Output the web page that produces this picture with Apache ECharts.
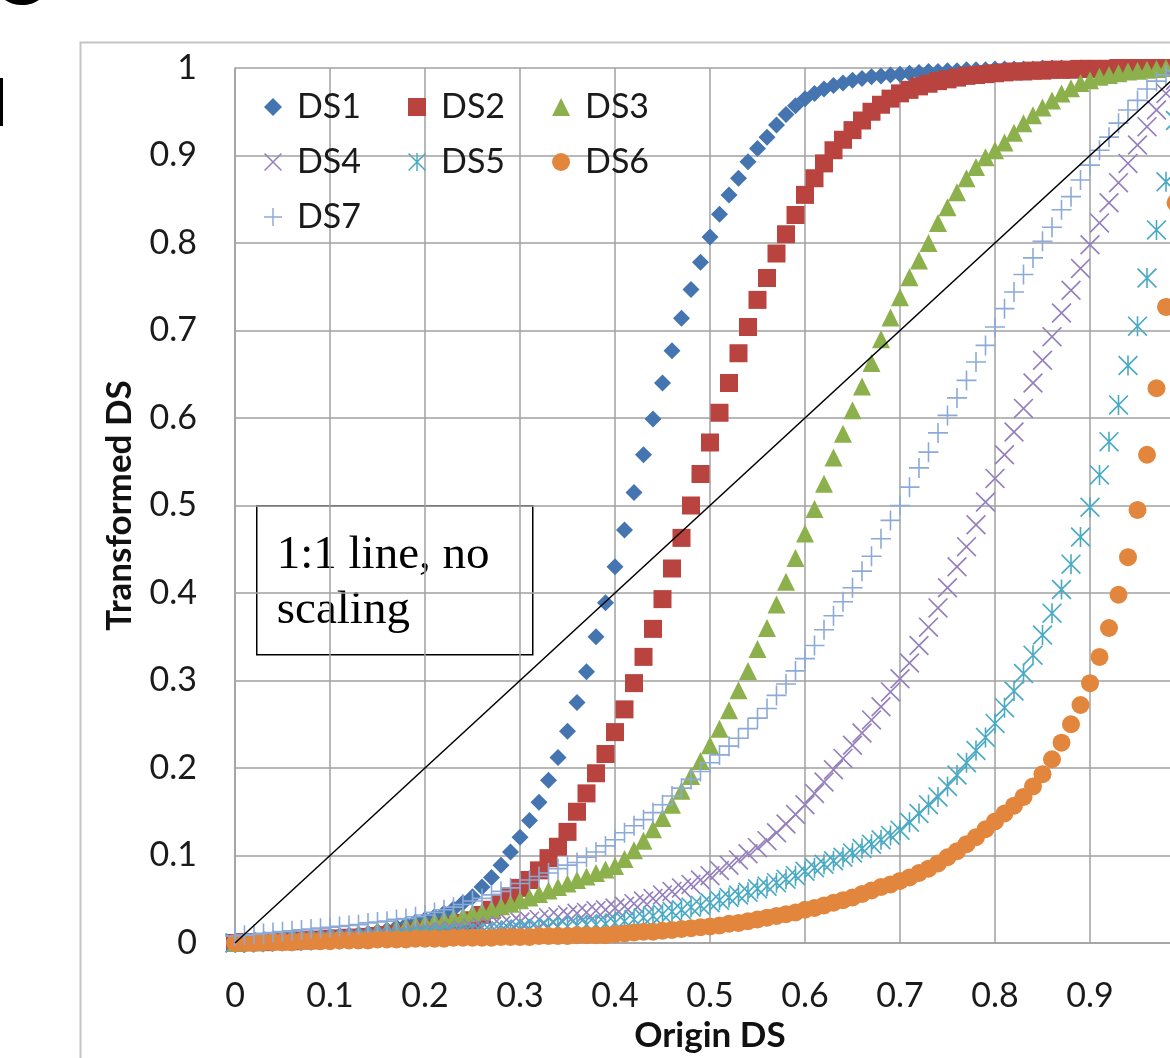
<!DOCTYPE html>
<html>
<head>
<meta charset="utf-8">
<script src="https://cdn.jsdelivr.net/npm/echarts/dist/echarts.min.js"></script>
<style>
  html, body { margin: 0; padding: 0; background: #fff; }
  #chart { width: 1170px; height: 1058px; }
</style>
</head>
<body>
<div id="chart"></div>
<script>
// origin DS sample points (x)
const originDS = [
  0, 0.01, 0.02, 0.03, 0.04, 0.05, 0.06, 0.07, 0.08, 0.09,
  0.1, 0.11, 0.12, 0.13, 0.14, 0.15, 0.16, 0.17, 0.18, 0.19,
  0.2, 0.21, 0.22, 0.23, 0.24, 0.25, 0.26, 0.27, 0.28, 0.29,
  0.3, 0.31, 0.32, 0.33, 0.34, 0.35, 0.36, 0.37, 0.38, 0.39,
  0.4, 0.41, 0.42, 0.43, 0.44, 0.45, 0.46, 0.47, 0.48, 0.49,
  0.5, 0.51, 0.52, 0.53, 0.54, 0.55, 0.56, 0.57, 0.58, 0.59,
  0.6, 0.61, 0.62, 0.63, 0.64, 0.65, 0.66, 0.67, 0.68, 0.69,
  0.7, 0.71, 0.72, 0.73, 0.74, 0.75, 0.76, 0.77, 0.78, 0.79,
  0.8, 0.81, 0.82, 0.83, 0.84, 0.85, 0.86, 0.87, 0.88, 0.89,
  0.9, 0.91, 0.92, 0.93, 0.94, 0.95, 0.96, 0.97, 0.98, 0.99, 1
];

// transformed DS values
const ds1 = [
  0, .001, .001, .002, .002, .003, .003, .004, .005, .006,
  .007, .008, .009, .010, .011, .013, .015, .018, .021, .024,
  .027, .030, .034, .039, .046, .053, .064, .075, .089, .104,
  .121, .140, .161, .186, .212, .242, .275, .310, .350, .389,
  .430, .472, .515, .558, .599, .640, .677, .714, .747, .778,
  .807, .833, .855, .874, .893, .908, .921, .935, .947, .957,
  .965, .971, .976, .980, .983, .986, .988, .990, .991, .992,
  .993, .994, .995, .996, .996, .997, .997, .998, .998, .998,
  .999, .999, .999, .999, .999, 1, 1, 1, 1, 1,
  1, 1, 1, 1, 1, 1, 1, 1, 1, 1, 1
];
const ds2 = [
  0, .001, .001, .001, .002, .002, .002, .003, .003, .004,
  .005, .005, .006, .006, .007, .008, .009, .010, .011, .013,
  .015, .016, .018, .020, .023, .026, .032, .038, .046, .053,
  .063, .072, .083, .097, .110, .127, .150, .171, .194, .216,
  .241, .267, .297, .327, .359, .393, .428, .463, .500, .536,
  .572, .606, .640, .674, .704, .735, .760, .788, .810, .832,
  .855, .874, .891, .906, .918, .929, .940, .950, .958, .965,
  .971, .975, .979, .982, .985, .987, .989, .991, .992, .993,
  .994, .995, .996, .996, .997, .997, .998, .998, .998, .999,
  .999, .999, .999, 1, 1, 1, 1, 1, 1, 1, 1
];
const ds3 = [
  0, .001, .001, .002, .003, .004, .005, .005, .006, .007,
  .008, .009, .010, .011, .012, .014, .015, .017, .019, .021,
  .023, .025, .027, .029, .031, .034, .036, .039, .042, .045,
  .049, .052, .056, .060, .064, .068, .072, .076, .080, .084,
  .088, .096, .106, .117, .130, .143, .158, .174, .191, .208,
  .226, .245, .266, .289, .311, .336, .360, .387, .413, .440,
  .468, .496, .525, .555, .582, .609, .636, .663, .690, .715,
  .738, .761, .780, .800, .823, .841, .858, .874, .887, .898,
  .906, .915, .926, .937, .946, .955, .963, .971, .977, .983,
  .986, .990, .992, .994, .996, .997, .998, .999, 1, 1, 1
];
const ds4 = [
  0, .001, .001, .002, .002, .003, .003, .004, .004, .005,
  .005, .006, .006, .007, .007, .008, .009, .009, .010, .011,
  .012, .013, .013, .014, .015, .017, .018, .019, .020, .022,
  .024, .025, .027, .029, .030, .032, .034, .035, .037, .038,
  .040, .042, .045, .048, .051, .055, .059, .063, .067, .072,
  .077, .083, .089, .095, .102, .109, .117, .126, .136, .147,
  .158, .171, .184, .198, .211, .226, .240, .255, .270, .287,
  .302, .320, .340, .361, .383, .406, .430, .453, .478, .504,
  .531, .558, .584, .611, .640, .666, .693, .720, .746, .771,
  .798, .823, .846, .869, .891, .912, .933, .952, .971, .986, 1
];
const ds5 = [
  0, 0, .001, .001, .002, .002, .002, .003, .003, .004,
  .004, .004, .005, .005, .006, .006, .006, .007, .008, .008,
  .009, .009, .010, .010, .011, .011, .012, .013, .014, .015,
  .016, .016, .017, .018, .019, .019, .020, .021, .021, .022,
  .023, .025, .027, .029, .031, .033, .036, .038, .041, .043,
  .046, .049, .052, .055, .058, .062, .065, .069, .073, .077,
  .082, .086, .090, .094, .098, .103, .108, .113, .118, .123,
  .129, .138, .148, .158, .167, .179, .192, .206, .220, .235,
  .251, .269, .288, .308, .329, .352, .377, .404, .433, .464,
  .498, .535, .573, .615, .660, .705, .760, .815, .870, .940, 1
];
const ds6 = [
  0, 0, 0, .001, .001, .001, .001, .002, .002, .002,
  .002, .003, .003, .003, .003, .004, .004, .004, .004, .005,
  .005, .005, .005, .006, .006, .006, .006, .006, .007, .007,
  .007, .007, .008, .008, .008, .008, .009, .009, .009, .009,
  .010, .011, .012, .013, .013, .014, .015, .016, .017, .018,
  .019, .020, .022, .023, .025, .027, .029, .031, .033, .035,
  .038, .040, .043, .046, .049, .052, .056, .060, .064, .067,
  .071, .075, .080, .085, .091, .098, .105, .113, .121, .130,
  .139, .148, .157, .167, .179, .193, .210, .229, .250, .272,
  .297, .327, .360, .398, .441, .495, .558, .634, .727, .846, 1
];
const ds7 = [
  .008, .009, .010, .011, .012, .013, .014, .015, .016, .017,
  .018, .019, .020, .021, .023, .024, .025, .027, .028, .030,
  .032, .035, .038, .041, .044, .048, .051, .055, .059, .063,
  .068, .072, .076, .080, .085, .089, .092, .098, .104, .111,
  .118, .126, .134, .141, .149, .158, .168, .177, .187, .196,
  .206, .215, .225, .234, .245, .257, .268, .283, .296, .311,
  .325, .340, .358, .374, .390, .406, .425, .442, .462, .483,
  .500, .521, .543, .561, .583, .603, .623, .643, .664, .683,
  .704, .725, .744, .764, .783, .802, .818, .838, .853, .872,
  .889, .906, .921, .937, .952, .963, .976, .985, .992, .997, 1
];
const oneToOne = [[0, 0], [1, 1]];

const seriesNames = ['DS1', 'DS2', 'DS3', 'DS4', 'DS5', 'DS6', 'DS7'];
const axisTicks = [0, 0.1, 0.2, 0.3, 0.4, 0.5, 0.6, 0.7, 0.8, 0.9, 1];

const LABEL_FONT = 'Lato, "Open Sans", sans-serif';
const GRID_COLOR = '#a0a0a0';

// thin marker shapes, filled so they render the same in the legend
const XMARK = 'path://M0,0.6L0.6,0L10,9.4L9.4,10Z M9.4,0L10,0.6L0.6,10L0,9.4Z';
const STAR = 'path://M0,0.6L0.6,0L10,9.4L9.4,10Z M9.4,0L10,0.6L0.6,10L0,9.4Z M4.6,0H5.4V10H4.6Z';
const PLUS = 'path://M4.6,0H5.4V10H4.6Z M0,4.6H10V5.4H0Z';

const styles = [
  { symbol: 'diamond', size: 17, color: '#4575b0' },
  { symbol: 'rect', size: 18, color: '#b8433f' },
  { symbol: 'triangle', size: 18, color: '#8cb04b' },
  { symbol: XMARK, size: 20, color: '#9580bd' },
  { symbol: STAR, size: 20, color: '#4aaac4' },
  { symbol: 'circle', size: 18, color: '#e2863d' },
  { symbol: PLUS, size: 20, color: '#8caad8' }
];

const values = [ds1, ds2, ds3, ds4, ds5, ds6, ds7];

const scatter = values.map((vals, i) => ({
  name: seriesNames[i],
  type: 'scatter',
  symbol: styles[i].symbol,
  symbolSize: styles[i].size,
  itemStyle: { color: styles[i].color, opacity: 1 },
  data: originDS.map((x, j) => [x, vals[j]]),
  z: 2 + i
}));

const chart = echarts.init(document.getElementById('chart'));

function legendRow(items, top) {
  return {
    data: items,
    left: 264,
    top: top,
    padding: 0,
    itemWidth: 18,
    itemHeight: 18,
    itemGap: 47,
    selectedMode: false,
    textStyle: {
      fontSize: 34, color: '#1a1a1a', fontFamily: LABEL_FONT,
      padding: [0, 0, 0, 10]
    }
  };
}

chart.setOption({
  animation: false,
  backgroundColor: '#fff',
  grid: { left: 235, top: 68, width: 950, height: 875, outerBoundsMode: 'none' },
  legend: [
    legendRow(['DS1', 'DS2', 'DS3'], 90),
    legendRow(['DS4', 'DS5', 'DS6'], 145),
    legendRow(['DS7'], 200)
  ],
  xAxis: {
    type: 'value',
    min: axisTicks[0],
    max: axisTicks[axisTicks.length - 1],
    interval: 0.1,
    name: 'Origin DS',
    nameLocation: 'middle',
    nameGap: 72,
    nameTextStyle: { fontSize: 35, fontWeight: 'bold', color: '#111', fontFamily: LABEL_FONT },
    axisLine: { show: true, lineStyle: { color: GRID_COLOR, width: 1.5 } },
    axisTick: { show: false },
    splitLine: { show: true, lineStyle: { color: GRID_COLOR, width: 1.5 } },
    axisLabel: { fontSize: 34, color: '#1a1a1a', margin: 36, fontFamily: LABEL_FONT }
  },
  yAxis: {
    type: 'value',
    min: axisTicks[0],
    max: axisTicks[axisTicks.length - 1],
    interval: 0.1,
    name: 'Transformed DS',
    nameLocation: 'middle',
    nameGap: 98,
    nameTextStyle: { fontSize: 35, fontWeight: 'bold', color: '#111', fontFamily: LABEL_FONT },
    axisLine: { show: true, lineStyle: { color: GRID_COLOR, width: 1.5 } },
    axisTick: { show: false },
    splitLine: { show: true, lineStyle: { color: GRID_COLOR, width: 1.5 } },
    axisLabel: { fontSize: 34, color: '#1a1a1a', margin: 38, fontFamily: LABEL_FONT }
  },
  graphic: [
    // cropped bits of neighbouring text at the page edge
    {
      type: 'ellipse',
      shape: { cx: 22, cy: -9, rx: 22, ry: 14 },
      style: { fill: '#000' },
      silent: true
    },
    {
      type: 'rect',
      shape: { x: 0, y: 78, width: 3, height: 48 },
      style: { fill: '#000' },
      silent: true
    },
    {
      type: 'rect',
      left: 78, top: 40,
      shape: { width: 1200, height: 1100 },
      style: { fill: 'none', stroke: '#c4c4c4', lineWidth: 2 },
      silent: true,
      z: 0
    },
    {
      type: 'group',
      left: 256, top: 505,
      z: 100,
      children: [
        {
          type: 'rect',
          shape: { width: 276, height: 149 },
          style: { fill: '#fff', stroke: '#000', lineWidth: 1.5 }
        },
        {
          type: 'text',
          left: 20, top: 22,
          style: {
            text: '1:1 line, no\nscaling',
            font: '47px "Liberation Serif", "DejaVu Serif", serif',
            fill: '#000',
            lineHeight: 55
          }
        }
      ]
    }
  ],
  series: scatter.concat([{
    name: '1:1',
    type: 'line',
    data: oneToOne,
    symbol: 'none',
    lineStyle: { color: '#000', width: 1.5 },
    z: 20
  }])
});
</script>
</body>
</html>
